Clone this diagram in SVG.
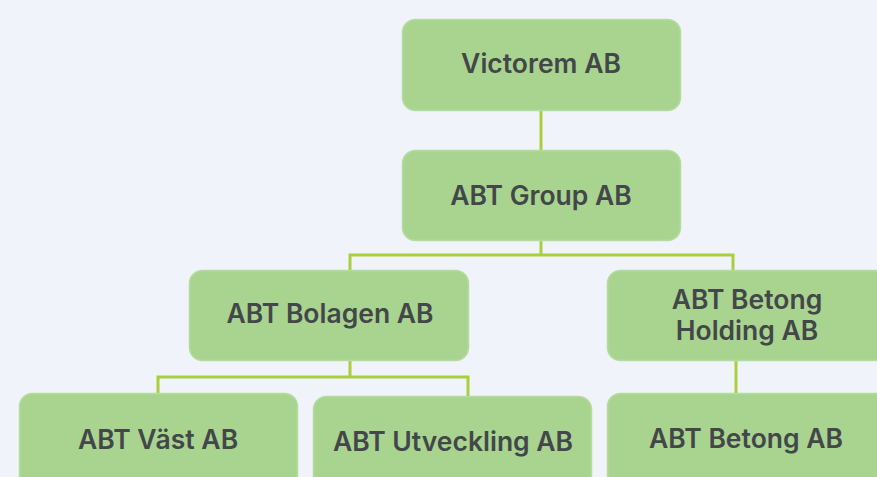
<svg xmlns="http://www.w3.org/2000/svg" width="877" height="477" viewBox="0 0 877 477">
<style>
.box{fill:#a9d490;stroke:#b4dc9c;stroke-width:1.5}
.t{font-family:Inter,"Noto Sans",sans-serif;font-weight:600;font-size:26.5px;fill:#43474a;text-anchor:middle;dominant-baseline:central}
.c{fill:none;stroke:#a8cf3c;stroke-width:3}
</style>
<rect width="877" height="477" fill="#f0f3fa"/>
<g id="connectors">
<path class="c" d="M541 111V150"/>
<path class="c" d="M541 241V255M350 270V255H733V270"/>
<path class="c" d="M350 361V377M158 393V377H468V396"/>
<path class="c" d="M736 361V393"/>
</g>
<g id="victorem"><rect class="box" x="402.5" y="19.5" width="278" height="91" rx="13"/><text class="t" x="541" y="63">Victorem AB</text></g>
<g id="abtgroup"><rect class="box" x="402.5" y="150.5" width="278" height="90" rx="13"/><text class="t" x="541" y="195">ABT Group AB</text></g>
<g id="bolagen"><rect class="box" x="189.5" y="270.5" width="279" height="90" rx="13"/><text class="t" x="330" y="313">ABT Bolagen AB</text></g>
<g id="betongholding"><rect class="box" x="607.5" y="270.5" width="290" height="90" rx="13"/><text class="t" x="747" y="299">ABT Betong</text><text class="t" x="747" y="330">Holding AB</text></g>
<g id="vast"><rect class="box" x="19.5" y="393.5" width="278" height="100" rx="13"/><text class="t" x="158" y="439">ABT Väst AB</text></g>
<g id="utveckling"><rect class="box" x="313.5" y="396.5" width="278" height="100" rx="13"/><text class="t" x="453" y="441">ABT Utveckling AB</text></g>
<g id="betong"><rect class="box" x="607.5" y="393.5" width="290" height="100" rx="13"/><text class="t" x="746" y="438">ABT Betong AB</text></g>
</svg>
